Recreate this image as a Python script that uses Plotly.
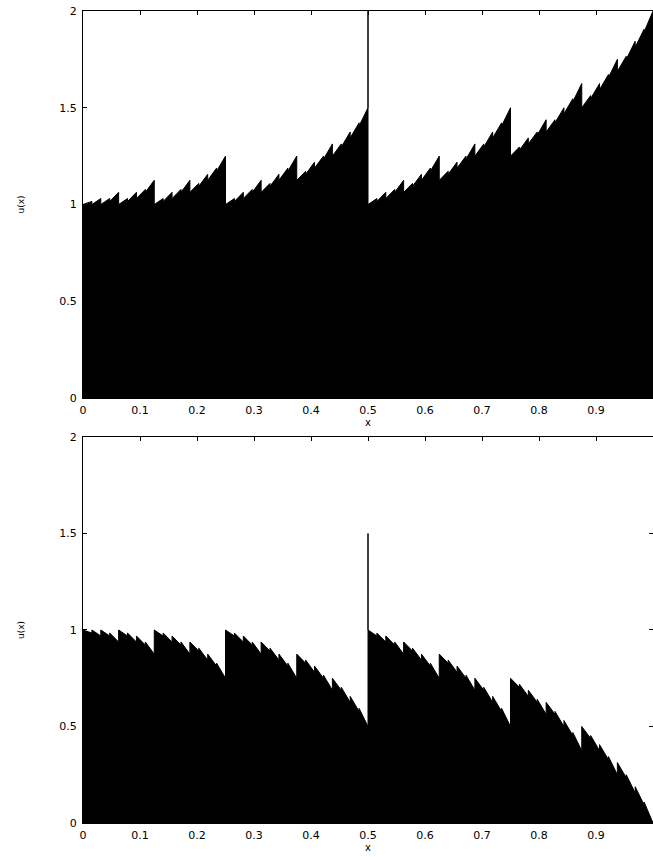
import plotly.graph_objects as go

# breakpoints along x (dyadic grid, 1/64 steps)
x_breaks = [0, 0.015625, 0.03125, 0.046875, 0.0625, 0.078125, 0.09375, 0.109375,
            0.125, 0.140625, 0.15625, 0.171875, 0.1875, 0.203125, 0.21875, 0.234375,
            0.25, 0.265625, 0.28125, 0.296875, 0.3125, 0.328125, 0.34375, 0.359375,
            0.375, 0.390625, 0.40625, 0.421875, 0.4375, 0.453125, 0.46875, 0.484375,
            0.5, 0.515625, 0.53125, 0.546875, 0.5625, 0.578125, 0.59375, 0.609375,
            0.625, 0.640625, 0.65625, 0.671875, 0.6875, 0.703125, 0.71875, 0.734375,
            0.75, 0.765625, 0.78125, 0.796875, 0.8125, 0.828125, 0.84375, 0.859375,
            0.875, 0.890625, 0.90625, 0.921875, 0.9375, 0.953125, 0.96875, 0.984375, 1.0]

# top panel: value at the start (right limit) and end (left limit) of each piece
top_start = [1.0, 1.0, 1.0, 1.016, 1.0, 1.016, 1.031, 1.063, 1.0, 1.016, 1.031, 1.063, 1.063, 1.094, 1.125, 1.172,
             1.0, 1.016, 1.031, 1.063, 1.063, 1.094, 1.125, 1.172, 1.125, 1.156, 1.188, 1.234, 1.25, 1.297, 1.344, 1.406,
             1.0, 1.016, 1.031, 1.063, 1.063, 1.094, 1.125, 1.172, 1.125, 1.156, 1.188, 1.234, 1.25, 1.297, 1.344, 1.406,
             1.25, 1.281, 1.313, 1.359, 1.375, 1.422, 1.469, 1.531, 1.5, 1.547, 1.594, 1.656, 1.688, 1.75, 1.813, 1.891]
top_end = [1.016, 1.031, 1.031, 1.063, 1.031, 1.063, 1.078, 1.125, 1.031, 1.063, 1.078, 1.125, 1.109, 1.156, 1.188, 1.25,
           1.031, 1.063, 1.078, 1.125, 1.109, 1.156, 1.188, 1.25, 1.172, 1.219, 1.25, 1.313, 1.313, 1.375, 1.422, 1.5,
           1.031, 1.063, 1.078, 1.125, 1.109, 1.156, 1.188, 1.25, 1.172, 1.219, 1.25, 1.313, 1.313, 1.375, 1.422, 1.5,
           1.297, 1.344, 1.375, 1.438, 1.438, 1.5, 1.547, 1.625, 1.563, 1.625, 1.672, 1.75, 1.766, 1.844, 1.906, 2.0]

# bottom panel
bottom_start = [1.0, 1.0, 1.0, 0.984, 1.0, 0.984, 0.969, 0.938, 1.0, 0.984, 0.969, 0.938, 0.938, 0.906, 0.875, 0.828,
                1.0, 0.984, 0.969, 0.938, 0.938, 0.906, 0.875, 0.828, 0.875, 0.844, 0.813, 0.766, 0.75, 0.703, 0.656, 0.594,
                1.0, 0.984, 0.969, 0.938, 0.938, 0.906, 0.875, 0.828, 0.875, 0.844, 0.813, 0.766, 0.75, 0.703, 0.656, 0.594,
                0.75, 0.719, 0.688, 0.641, 0.625, 0.578, 0.531, 0.469, 0.5, 0.453, 0.406, 0.344, 0.313, 0.25, 0.188, 0.109]
bottom_end = [0.984, 0.969, 0.969, 0.938, 0.969, 0.938, 0.922, 0.875, 0.969, 0.938, 0.922, 0.875, 0.891, 0.844, 0.813, 0.75,
              0.969, 0.938, 0.922, 0.875, 0.891, 0.844, 0.813, 0.75, 0.828, 0.781, 0.75, 0.688, 0.688, 0.625, 0.578, 0.5,
              0.969, 0.938, 0.922, 0.875, 0.891, 0.844, 0.813, 0.75, 0.828, 0.781, 0.75, 0.688, 0.688, 0.625, 0.578, 0.5,
              0.703, 0.656, 0.625, 0.563, 0.563, 0.5, 0.453, 0.375, 0.438, 0.375, 0.328, 0.25, 0.234, 0.156, 0.094, 0.0]

# isolated spike at x = 0.5
spike_x = [0.5]
top_spike = [2.0]
bottom_spike = [1.5]

x_tickvals = [0, 0.1, 0.2, 0.3, 0.4, 0.5, 0.6, 0.7, 0.8, 0.9]
x_ticktext = ["0", "0.1", "0.2", "0.3", "0.4", "0.5", "0.6", "0.7", "0.8", "0.9"]
y_tickvals = [0, 0.5, 1, 1.5, 2]
y_ticktext = ["0", "0.5", "1", "1.5", "2"]


def build(starts, ends, spike_vals):
    xs, ys = [], []
    for k in range(len(starts)):
        xs += [x_breaks[k], x_breaks[k + 1]]
        ys += [starts[k], ends[k]]
        for sx, sv in zip(spike_x, spike_vals):
            if x_breaks[k + 1] == sx:
                xs.append(sx)
                ys.append(sv)
    return xs, ys


tx, ty = build(top_start, top_end, top_spike)
bx, by = build(bottom_start, bottom_end, bottom_spike)

fig = go.Figure()
fig.add_trace(go.Scatter(x=tx, y=ty, mode="lines", line=dict(color="black", width=1),
                         fill="tozeroy", fillcolor="black", xaxis="x", yaxis="y",
                         showlegend=False, hoverinfo="skip"))
fig.add_trace(go.Scatter(x=bx, y=by, mode="lines", line=dict(color="black", width=1),
                         fill="tozeroy", fillcolor="black", xaxis="x2", yaxis="y2",
                         showlegend=False, hoverinfo="skip"))

fam = "DejaVu Sans, Liberation Sans, Arial, sans-serif"
tickfont = dict(family=fam, size=11, color="black")

xcommon = dict(range=[0, 1], tickvals=x_tickvals, ticktext=x_ticktext, ticks="inside",
               ticklen=4, tickcolor="black", tickwidth=1, showline=True, linecolor="black",
               linewidth=1, mirror="ticks", showgrid=False, zeroline=False, tickfont=tickfont,
               ticklabelstandoff=2,
               title=dict(text="x", font=dict(family=fam, size=10, color="black"), standoff=1))
ycommon = dict(range=[0, 2], tickvals=y_tickvals, ticktext=y_ticktext, ticks="inside",
               ticklen=4, tickcolor="black", tickwidth=1, showline=True, linecolor="black",
               linewidth=1, mirror="ticks", showgrid=False, zeroline=False, tickfont=tickfont,
               ticklabelstandoff=3,
               title=dict(text="u(x)", font=dict(family=fam, size=9, color="black"),
                          standoff=33))

fig.update_layout(
    width=653, height=857,
    margin=dict(l=83, r=0, t=11, b=34, autoexpand=False),
    plot_bgcolor="white", paper_bgcolor="white",
    xaxis=dict(domain=[0, 1], anchor="y", **xcommon),
    yaxis=dict(domain=[0.5234, 1], anchor="x", **ycommon),
    xaxis2=dict(domain=[0, 1], anchor="y2", **xcommon),
    yaxis2=dict(domain=[0, 0.4754], anchor="x2", **ycommon),
)

fig.write_html("out.html", config={"displayModeBar": False},
               post_script="document.body.style.margin='0';document.body.style.padding='0';")
